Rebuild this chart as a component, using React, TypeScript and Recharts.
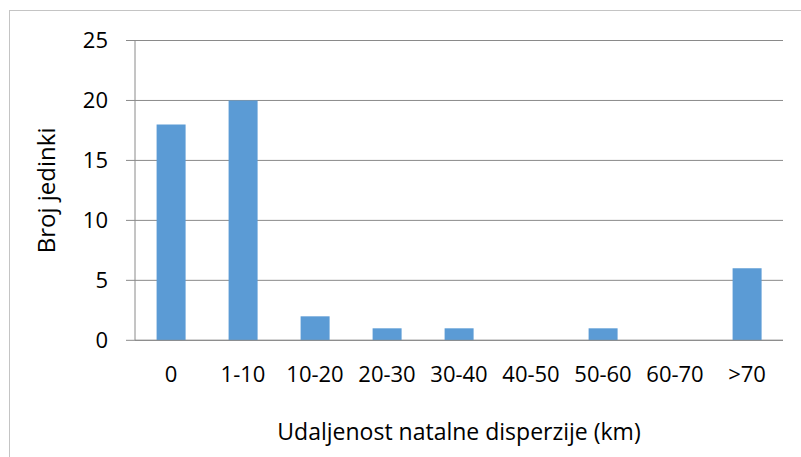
import { BarChart, Bar, XAxis, YAxis, CartesianGrid, Label } from "recharts";

// udaljenost natalne disperzije (km) i broj jedinki po razredu
const categories = ["0", "1-10", "10-20", "20-30", "30-40", "40-50", "50-60", "60-70", ">70"];
const counts = [18, 20, 2, 1, 1, 0, 1, 0, 6];
const yTicks = [0, 5, 10, 15, 20, 25];

const data = categories.map((c, i) => ({ range: c, count: counts[i] }));

const FONT = "'Open Sans', 'DejaVu Sans', sans-serif";
const GRID = "#8a8a8a";

export default function App() {
  return (
    <div style={{ position: "absolute", left: 0, top: 0, width: 801, height: 457, overflow: "hidden", background: "#fff" }}>
      <div
        style={{
          position: "absolute",
          left: 9,
          top: 10,
          width: 810,
          height: 470,
          border: "1px solid #c4c4c4",
          boxSizing: "border-box",
        }}
      />
      <BarChart
        width={801}
        height={457}
        data={data}
        margin={{ top: 40.5, right: 18, bottom: 16.7, left: 0 }}
        barCategoryGap="30%"
        style={{ position: "absolute", left: 0, top: 0 }}
      >
        <CartesianGrid vertical={false} stroke={GRID} strokeWidth={1} />
        <XAxis
          dataKey="range"
          height={100}
          tickLine={false}
          tickSize={0}
          tickMargin={26}
          axisLine={{ stroke: GRID }}
          tick={{ fontSize: 22, fill: "#000", fontFamily: FONT }}
          interval={0}
        >
          <Label
            value="Udaljenost natalne disperzije (km)"
            position="insideBottom"
            offset={0}
            style={{ fontSize: 23, fill: "#000", fontFamily: FONT }}
          />
        </XAxis>
        <YAxis
          width={135}
          domain={[0, 25]}
          ticks={yTicks}
          tickSize={9}
          tickMargin={18}
          tickLine={{ stroke: GRID }}
          axisLine={{ stroke: GRID }}
          tick={{ fontSize: 22, fill: "#000", fontFamily: FONT }}
        >
          <Label
            value="Broj jedinki"
            angle={-90}
            position="insideLeft"
            offset={46}
            style={{ fontSize: 24, fill: "#000", fontFamily: FONT, textAnchor: "middle" }}
          />
        </YAxis>
        <Bar dataKey="count" fill="#5b9bd5" isAnimationActive={false} />
      </BarChart>
    </div>
  );
}
